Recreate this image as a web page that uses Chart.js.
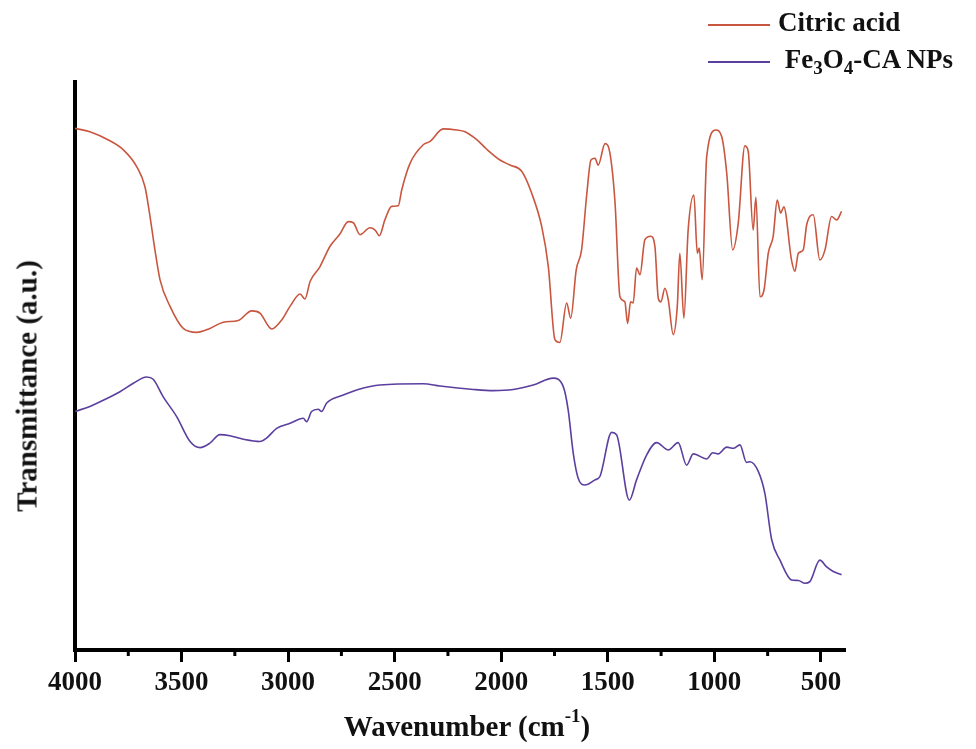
<!DOCTYPE html>
<html>
<head>
<meta charset="utf-8">
<script src="https://cdn.jsdelivr.net/npm/chart.js@4.4.0/dist/chart.umd.min.js"></script>
<style>
  body { margin: 0; background: #fff; }
  #wrap { position: relative; width: 976px; height: 749px; font-family: "Liberation Serif", "Times New Roman", serif; font-weight: bold; color: #111; }
  #ytitle { position: absolute; left: 27px; top: 386px; transform: translate(-50%, -50%) rotate(-90deg); white-space: nowrap; font-size: 29px; }
  #xtitle { position: absolute; left: 467px; top: 726px; transform: translate(-50%, -50%); white-space: nowrap; font-size: 29px; }
  #xtitle sup { font-size: 19px; position: relative; top: -4px; }
  .leg { position: absolute; left: 708px; white-space: nowrap; font-size: 27px; }
  .leg i { display: inline-block; width: 62px; height: 2px; vertical-align: middle; margin-right: 8px; }
  .leg sub { font-size: 19px; }
</style>
</head>
<body>
<div id="wrap">
  <canvas id="ftirChart" width="976" height="749"></canvas>
  <div id="ytitle">Transmittance (a.u.)</div>
  <div id="xtitle">Wavenumber (cm<sup>-1</sup>)</div>
  <div class="leg" style="top:7px"><i style="background:#c9563f"></i>Citric acid</div>
  <div class="leg" style="top:44px"><i style="background:#5b3f9e"></i> Fe<sub>3</sub>O<sub>4</sub>-CA NPs</div>
</div>
<script>
// wavenumbers (cm-1) and transmittance (a.u.)
var citricWn = [4000, 3930, 3836, 3773, 3710, 3672, 3648, 3625, 3601, 3554, 3492, 3429, 3367, 3304, 3234, 3171, 3132, 3077, 3030, 2991,
  2944, 2921, 2897, 2851, 2804, 2757, 2718, 2694, 2663, 2616, 2592, 2572, 2546, 2514, 2483, 2467, 2428, 2366, 2334, 2272,
  2209, 2170, 2115, 2068, 2006, 1959, 1904, 1857, 1810, 1779, 1748, 1725, 1693, 1674, 1648, 1623, 1599, 1579, 1560, 1545,
  1513, 1490, 1466, 1443, 1420, 1407, 1393, 1381, 1365, 1349, 1326, 1298, 1279, 1263, 1251, 1232, 1216, 1193, 1174, 1162,
  1143, 1123, 1096, 1080, 1071, 1057, 1036, 993, 966, 942, 914, 888, 857, 841, 818, 805, 786, 767, 747, 724,
  705, 689, 674, 638, 622, 606, 583, 567, 536, 505, 481, 450, 426, 403];
var citricT = [92.3, 91.7, 90.1, 88.5, 85.5, 82.0, 76.7, 70.8, 65.5, 60.8, 56.9, 56.2, 56.9, 58.0, 58.3, 60.0, 59.6, 56.8, 58.4, 60.8,
  63.0, 62.1, 65.2, 67.8, 71.4, 73.6, 75.8, 75.6, 73.5, 74.7, 74.3, 73.3, 76.1, 78.5, 78.6, 81.4, 86.1, 89.4, 90.0, 92.2,
  92.0, 91.7, 90.3, 88.6, 86.7, 85.8, 84.7, 80.8, 74.9, 67.8, 54.9, 54.4, 61.4, 58.7, 67.3, 70.8, 80.5, 86.7, 87.0, 85.8,
  89.6, 87.9, 79.1, 62.5, 61.6, 57.8, 61.6, 61.4, 67.6, 66.4, 72.6, 73.2, 71.4, 62.2, 61.6, 64.0, 61.9, 55.8, 60.8, 70.2,
  58.7, 74.3, 80.5, 70.2, 71.1, 65.5, 87.3, 92.0, 90.9, 84.4, 70.8, 75.5, 89.2, 88.2, 74.3, 80.1, 62.5, 63.7, 70.2, 73.2,
  79.6, 77.3, 78.4, 69.0, 67.0, 70.2, 70.8, 75.2, 77.0, 69.0, 70.8, 76.7, 76.1, 77.6];

var fe3o4Wn = [4000, 3930, 3867, 3789, 3726, 3664, 3633, 3586, 3523, 3460, 3413, 3367, 3320, 3273, 3210, 3132, 3101, 3054, 2991, 2929,
  2913, 2890, 2859, 2843, 2819, 2741, 2671, 2569, 2366, 2288, 2131, 2037, 1944, 1850, 1756, 1709, 1686, 1662, 1639, 1607,
  1560, 1537, 1482, 1459, 1399, 1365, 1318, 1271, 1216, 1170, 1130, 1099, 1036, 1008, 982, 942, 911, 880, 849, 833,
  794, 763, 731, 692, 638, 606, 575, 552, 505, 473, 442, 403];
var fe3o4T = [42.2, 43.1, 44.2, 45.7, 47.2, 48.3, 47.9, 44.8, 41.3, 36.9, 35.8, 36.6, 38.1, 37.9, 37.3, 36.9, 37.5, 39.2, 40.1, 41.0,
  40.4, 42.2, 42.6, 42.2, 43.7, 45.1, 46.1, 46.9, 47.1, 46.7, 46.1, 45.9, 46.1, 46.9, 48.1, 46.6, 42.5, 34.8, 30.4, 29.2,
  30.1, 30.7, 38.5, 38.1, 26.5, 30.1, 34.5, 36.7, 35.4, 36.7, 32.7, 34.7, 33.8, 34.9, 34.7, 35.9, 35.7, 36.3, 33.2, 33.3,
  31.6, 27.7, 19.5, 15.9, 12.4, 12.3, 11.8, 12.1, 15.9, 14.7, 13.9, 13.3];

var majorTicks = [4000, 3500, 3000, 2500, 2000, 1500, 1000, 500];
var minorTicks = [3750, 3250, 2750, 2250, 1750, 1250, 750];

function toPoints(xs, ys) {
  return xs.map(function (x, i) { return { x: x, y: ys[i] }; });
}

// short minor ticks between the labelled ones
var minorTickPlugin = {
  id: 'minorTicks',
  afterDraw: function (chart) {
    var sx = chart.scales.x;
    var ctx = chart.ctx;
    ctx.save();
    ctx.strokeStyle = '#000';
    ctx.lineWidth = 3;
    minorTicks.forEach(function (v) {
      var px = sx.getPixelForValue(v);
      ctx.beginPath();
      ctx.moveTo(px, chart.chartArea.bottom);
      ctx.lineTo(px, chart.chartArea.bottom + 6);
      ctx.stroke();
    });
    ctx.restore();
  }
};

var config = {
  type: 'line',
  data: {
    datasets: [{
      label: 'Citric acid',
      data: toPoints(citricWn, citricT),
      borderColor: '#c9563f',
      borderWidth: 1.6,
      pointRadius: 0,
      cubicInterpolationMode: 'monotone'
    }, {
      label: 'Fe3O4-CA NPs',
      data: toPoints(fe3o4Wn, fe3o4T),
      borderColor: '#5b3f9e',
      borderWidth: 1.6,
      pointRadius: 0,
      cubicInterpolationMode: 'monotone'
    }]
  },
  options: {
    responsive: false,
    animation: false,
    layout: { padding: { top: 82, right: 131, bottom: 0, left: 0 } },
    plugins: { legend: { display: false }, tooltip: { enabled: false } },
    scales: {
      x: {
        type: 'linear',
        reverse: true,
        min: 387,
        max: 4000,
        afterBuildTicks: function (s) {
          s.ticks = majorTicks.map(function (v) { return { value: v }; });
        },
        afterFit: function (s) { s.height = 99; },
        grid: { display: true, drawOnChartArea: false, tickLength: 12, tickWidth: 3, tickColor: '#000' },
        border: { display: true, color: '#000', width: 4 },
        ticks: {
          color: '#111',
          padding: 5,
          maxRotation: 0,
          callback: function (v) { return String(v); },
          font: { family: 'Liberation Serif', size: 27, weight: 'bold' }
        }
      },
      y: {
        min: 0,
        max: 100.5,
        afterFit: function (s) { s.width = 75; },
        grid: { display: false },
        border: { display: true, color: '#000', width: 4 },
        ticks: { display: false }
      }
    }
  },
  plugins: [minorTickPlugin]
};

var ctx = document.getElementById('ftirChart').getContext('2d');
var ftirChart = new Chart(ctx, config);
</script>
</body>
</html>
